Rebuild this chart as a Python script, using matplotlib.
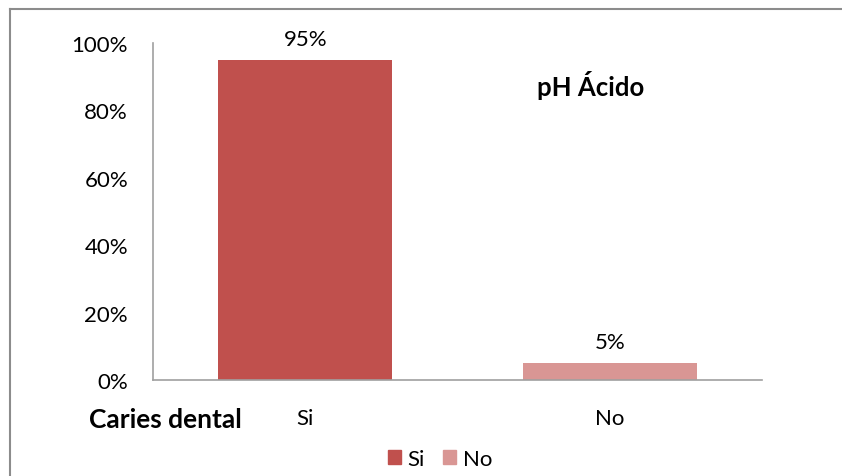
import numpy as np
import matplotlib.pyplot as plt
from matplotlib.patches import Patch
from matplotlib.lines import Line2D

plt.rcParams['font.family'] = ['Lato', 'DejaVu Sans']

categorias = ['Si', 'No']
porcentajes = [95, 5]
colores = ['#C0504D', '#D99694']
yticks = [0, 20, 40, 60, 80, 100]

W, H = 842, 477
fig = plt.figure(figsize=(W / 100, H / 100), dpi=100)
ax = fig.add_axes([153 / W, 1 - 381 / H, (762 - 153) / W, (381 - 44) / H])

x = np.arange(len(categorias))
barras = ax.bar(x, porcentajes, width=0.57, color=colores)
for b, v in zip(barras, porcentajes):
    ax.annotate(f'{v}%', (b.get_x() + b.get_width() / 2, v), xytext=(0, 8),
                textcoords='offset points', ha='center', va='bottom', fontsize=16)

ax.set_xlim(-0.5, 1.5)
ax.set_ylim(0, 100)
ax.set_yticks(yticks)
ax.set_yticklabels([f'{t}%' for t in yticks], fontsize=16)
ax.set_xticks(x)
ax.set_xticklabels(categorias, fontsize=16)
ax.tick_params(length=0)
ax.tick_params(axis='y', pad=18)
ax.tick_params(axis='x', pad=20)
for s in ['top', 'right']:
    ax.spines[s].set_visible(False)
for s in ['left', 'bottom']:
    ax.spines[s].set_color('#A0A0A0')
    ax.spines[s].set_linewidth(1.2)

fig.text(591 / W, 1 - 85 / H, 'pH Ácido', ha='center', va='center',
         fontsize=18.5, fontweight='bold')
fig.text(165 / W, 1 - 420 / H, 'Caries dental', ha='center', va='center',
         fontsize=19, fontweight='bold')

handles = [Patch(color=c) for c in colores]
fig.legend(handles, categorias, loc='center', bbox_to_anchor=(440 / W, 1 - 460 / H),
           ncol=2, frameon=False, fontsize=16, handlelength=0.6, handleheight=0.6,
           handletextpad=0.3, columnspacing=0.8)

# marco del gráfico
fig.add_artist(Line2D([10 / W, 1], [1 - 10 / H, 1 - 10 / H], color='#8C8C8C', lw=1.5))
fig.add_artist(Line2D([10 / W, 10 / W], [0, 1 - 10 / H], color='#8C8C8C', lw=1.5))

fig.savefig('out.png', dpi=100, facecolor='white')
